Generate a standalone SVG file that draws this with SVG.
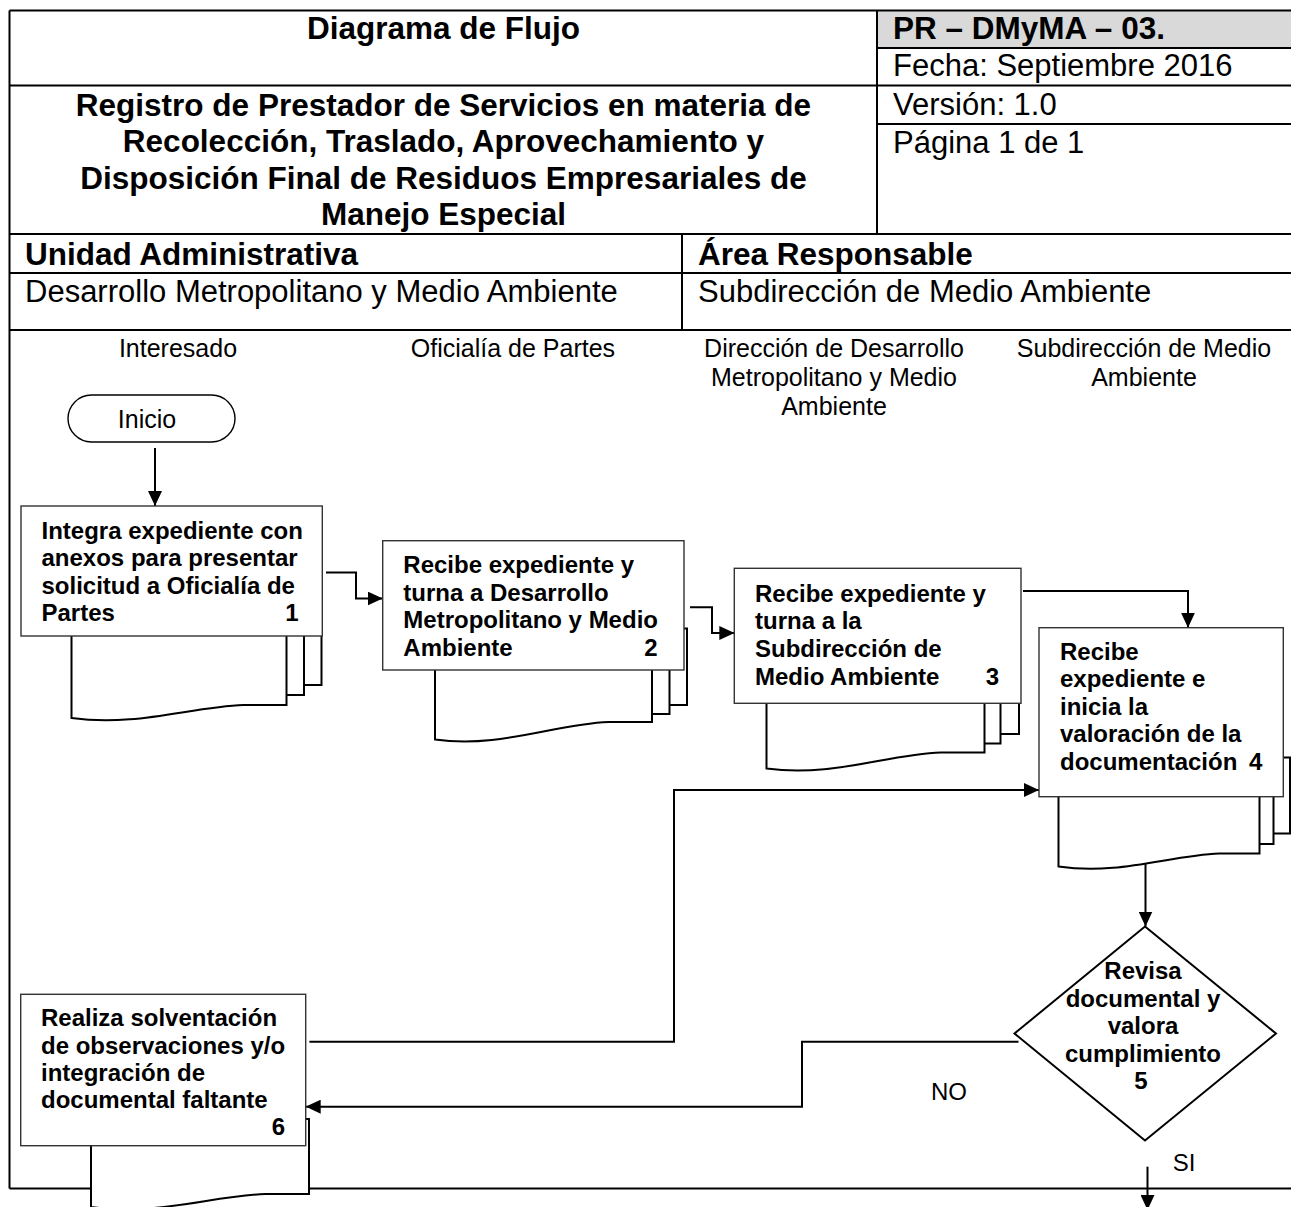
<svg xmlns="http://www.w3.org/2000/svg" width="1291" height="1207" viewBox="0 0 1291 1207">
<defs>
<marker id="ah" viewBox="0 0 15 14" refX="15" refY="7" markerWidth="15" markerHeight="14" markerUnits="userSpaceOnUse" orient="auto">
<path d="M0,0 L15,7 L0,14 Z" fill="#000"/>
</marker>
<style>
text{font-family:"Liberation Sans",Arial,sans-serif;fill:#000}
.hb{font-size:31.5px;font-weight:bold}
.hr{font-size:31px}
.ln{font-size:25px;text-anchor:middle}
.bt{font-size:24px;font-weight:bold}
.lb{font-size:24px}
.fr{stroke:#000;stroke-width:2;fill:none}
.box{fill:#fff;stroke:#333;stroke-width:1.4}
.doc{fill:#fff;stroke:#000;stroke-width:2}
.cn{fill:none;stroke:#000;stroke-width:2;marker-end:url(#ah)}
.cn0{fill:none;stroke:#000;stroke-width:2}
</style>
</defs>
<rect width="1291" height="1207" fill="#fff"/>

<g id="header">
<rect x="877" y="10.5" width="414" height="37.5" fill="#d9d9d9"/>
<path class="fr" d="M9.5,10.5 H1291 M877,48 H1291 M9.5,85.5 H1291 M877,124 H1291 M9.5,234 H1291 M9.5,273 H1291 M9.5,330 H1291 M877,10.5 V234 M682,234 V330 M9.5,10.5 V1188.5 M9.5,1188.5 H1291"/>
<text class="hb" x="443.5" y="39" text-anchor="middle">Diagrama de Flujo</text>
<text class="hb" x="443.5" y="115.5" text-anchor="middle">Registro de Prestador de Servicios en materia de</text>
<text class="hb" x="443.5" y="152" text-anchor="middle">Recolección, Traslado, Aprovechamiento y</text>
<text class="hb" x="443.5" y="188.5" text-anchor="middle">Disposición Final de Residuos Empresariales de</text>
<text class="hb" x="443.5" y="225" text-anchor="middle">Manejo Especial</text>
<text class="hb" x="893" y="39">PR – DMyMA – 03.</text>
<text class="hr" x="893" y="76">Fecha: Septiembre 2016</text>
<text class="hr" x="893" y="115">Versión: 1.0</text>
<text class="hr" x="893" y="153">Página 1 de 1</text>
<text class="hb" x="25" y="265">Unidad Administrativa</text>
<text class="hb" x="698" y="265">Área Responsable</text>
<text class="hr" x="25" y="302">Desarrollo Metropolitano y Medio Ambiente</text>
<text class="hr" x="698" y="302">Subdirección de Medio Ambiente</text>
</g>

<g id="lanes">
<text class="ln" x="178" y="357">Interesado</text>
<text class="ln" x="513" y="357">Oficialía de Partes</text>
<text class="ln" x="834" y="357">Dirección de Desarrollo</text>
<text class="ln" x="834" y="386">Metropolitano y Medio</text>
<text class="ln" x="834" y="415">Ambiente</text>
<text class="ln" x="1144" y="357">Subdirección de Medio</text>
<text class="ln" x="1144" y="386">Ambiente</text>
</g>

<g id="connectors">
<path class="cn" d="M155,448 V506"/>
<path class="cn" d="M326,572.5 H356 V598.5 H382.7"/>
<path class="cn" d="M690,607.3 H712 V633 H734.3"/>
<path class="cn" d="M1023,591 H1188 V627.7"/>
<path class="cn" d="M1145.5,864 V926.5"/>
<path class="cn" d="M1018.5,1041.7 H802 V1106.7 H305.7"/>
<path class="cn" d="M309.4,1041.7 H674 V790 H1039"/>
<path class="cn" d="M1147.5,1166.7 V1210"/>
<text class="lb" x="949" y="1100" text-anchor="middle">NO</text>
<text class="lb" x="1184" y="1171" text-anchor="middle">SI</text>
</g>

<g id="n0">
<rect x="68" y="395" width="167" height="47" rx="23.5" ry="23.5" fill="#fff" stroke="#000" stroke-width="1.4"/>
<text class="ln" x="147" y="428">Inicio</text>
</g>

<g id="n1">
<path class="doc" d="M106.5,609 H321.5 V685 H106.5 Z"/>
<path class="doc" d="M88.5,619 H304 V695 H88.5 Z"/>
<path class="doc" d="M71.5,629 V718 C136,727 190,707 243.5,705 H286.5 V629 Z"/>
<rect class="box" x="21" y="506" width="301.3" height="130"/>
<text class="bt" x="41.5" y="538.5">Integra expediente con</text>
<text class="bt" x="41.5" y="566">anexos para presentar</text>
<text class="bt" x="41.5" y="593.5">solicitud a Oficialía de</text>
<text class="bt" x="41.5" y="621">Partes</text>
<text class="bt" x="298.5" y="621" text-anchor="end">1</text>
</g>

<g id="n2">
<path class="doc" d="M470,628.5 H687 V705 H470 Z"/>
<path class="doc" d="M452,638.5 H669.5 V714 H452 Z"/>
<path class="doc" d="M435,648.5 V739.5 C500,748.5 554,724 608.6,722 H652 V648.5 Z"/>
<rect class="box" x="382.7" y="540.7" width="301.3" height="129.3"/>
<text class="bt" x="403.3" y="573.3">Recibe expediente y</text>
<text class="bt" x="403.3" y="600.7">turna a Desarrollo</text>
<text class="bt" x="403.3" y="628.3">Metropolitano y Medio</text>
<text class="bt" x="403.3" y="655.7">Ambiente</text>
<text class="bt" x="657.7" y="655.7" text-anchor="end">2</text>
</g>

<g id="n3">
<path class="doc" d="M801.5,658 H1019 V734 H801.5 Z"/>
<path class="doc" d="M783.5,668 H1000.5 V743.5 H783.5 Z"/>
<path class="doc" d="M766.5,678 V768.5 C831.9,777.5 886.4,754.5 940.9,752.5 H984.5 V678 Z"/>
<rect class="box" x="734.3" y="568.3" width="286.7" height="135"/>
<text class="bt" x="755" y="601.5">Recibe expediente y</text>
<text class="bt" x="755" y="628.5">turna a la</text>
<text class="bt" x="755" y="656.5">Subdirección de</text>
<text class="bt" x="755" y="684.5">Medio Ambiente</text>
<text class="bt" x="999" y="684.5" text-anchor="end">3</text>
</g>

<g id="n4">
<path class="doc" d="M1090,757.5 H1290 V833.5 H1090 Z"/>
<path class="doc" d="M1074,767.5 H1273.5 V844 H1074 Z"/>
<path class="doc" d="M1058.5,777.5 V866.5 C1118.8,875.5 1169,855.5 1219.3,853.5 H1259.5 V777.5 Z"/>
<rect class="box" x="1039" y="627.7" width="244.3" height="169"/>
<text class="bt" x="1060" y="659.5">Recibe</text>
<text class="bt" x="1060" y="687">expediente e</text>
<text class="bt" x="1060" y="714.5">inicia la</text>
<text class="bt" x="1060" y="742">valoración de la</text>
<text class="bt" x="1060" y="769.5">documentación</text>
<text class="bt" x="1262.3" y="769.5" text-anchor="end">4</text>
</g>

<g id="n5">
<path d="M1145,926.5 L1276,1033.5 L1145,1140.5 L1014.5,1033.5 Z" fill="#fff" stroke="#000" stroke-width="2"/>
<text class="bt" x="1143" y="979" text-anchor="middle">Revisa</text>
<text class="bt" x="1143" y="1006.5" text-anchor="middle">documental y</text>
<text class="bt" x="1143" y="1034" text-anchor="middle">valora</text>
<text class="bt" x="1143" y="1061.5" text-anchor="middle">cumplimiento</text>
<text class="bt" x="1141" y="1088.5" text-anchor="middle">5</text>
</g>

<g id="n6">
<path class="doc" d="M91,1119 V1207 C156.4,1216 211,1196 265.4,1194 H309 V1119 Z"/>
<rect class="box" x="20.7" y="994.3" width="285" height="151.4"/>
<text class="bt" x="41" y="1026">Realiza solventación</text>
<text class="bt" x="41" y="1054.3">de observaciones y/o</text>
<text class="bt" x="41" y="1081">integración de</text>
<text class="bt" x="41" y="1108.3">documental faltante</text>
<text class="bt" x="285" y="1135" text-anchor="end">6</text>
</g>
</svg>
